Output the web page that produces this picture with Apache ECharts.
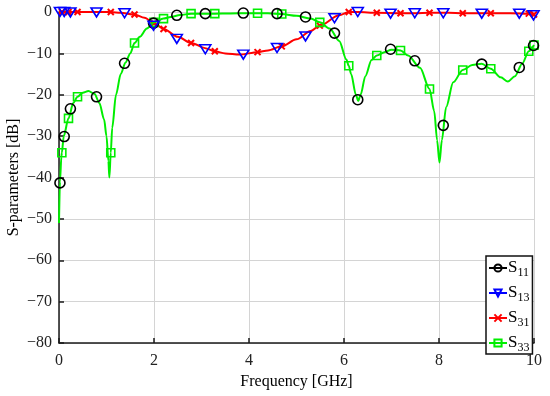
<!DOCTYPE html>
<html><head><meta charset="utf-8">
<script src="https://cdn.jsdelivr.net/npm/echarts@6/dist/echarts.min.js"></script>
<style>html,body{margin:0;padding:0;background:#fff}#c{width:550px;height:396px}</style>
</head><body><div id="c"></div>
<script>
// S33 smooth curve (green) – points between markers
const s33CurveX = [0,0.02,0.05,0.1,0.3,0.5,0.62,0.75,0.85,0.95,1.0,1.04,1.06,1.12,1.2,1.3,1.4,1.5,1.7,1.85,2.35,2.55,3.0,3.6,4.0,4.4,5.0,5.3,5.7,5.9,6.05,6.15,6.25,6.3,6.35,6.45,6.58,6.85,7.0,7.35,7.6,7.9,7.96,8.01,8.06,8.15,8.3,8.7,8.9,9.3,9.45,9.6,9.75];
const s33CurveY = [-51,-41,-35,-30,-22,-19.5,-19.1,-19.8,-22,-26,-30,-36,-40,-28,-20,-15,-12.2,-10,-6.0,-4.0,-1.2,-0.75,-0.45,-0.35,-0.3,-0.3,-0.9,-1.6,-4,-7,-11.5,-15,-20,-21.5,-20,-15.5,-11.6,-9.7,-9.1,-10.5,-13.5,-24,-31,-36.4,-31,-23,-17,-12.8,-12.5,-15.8,-16.8,-15.5,-12.5];
// markers shared by S33 / S31
const markAX = [0.06,0.2,0.39,1.09,1.59,2.0,2.2,2.78,3.28,4.18,4.69,5.49,6.1,6.69,7.19,7.8,8.5,9.09,9.89,10];
const s33MarkY = [-34,-25.7,-20.5,-34,-7.5,-2.5,-1.6,-0.4,-0.4,-0.3,-0.5,-2.5,-13,-10.5,-9.3,-18.6,-14,-13.7,-9.5,-8];
// S31 smooth curve (red)
const s31CurveX = [0,0.5,1.3,1.8,2.5,3.1,3.5,3.8,4.4,5.0,5.3,5.9,6.3,7.5,8.2,9.5];
const s31CurveY = [0,0,-0.2,-1.4,-6.0,-8.8,-10.0,-10.3,-9.3,-6.6,-4.6,-0.8,0,-0.3,-0.2,-0.3];
const s31MarkY = [0,0,0,0,-0.6,-2.7,-4.1,-7.5,-9.5,-9.7,-8.3,-3.3,0,-0.2,-0.3,-0.2,-0.3,-0.3,-0.4,-0.6];
// markers shared by S11 / S13
const markBX = [0.02,0.11,0.24,0.79,1.38,1.99,2.48,3.08,3.88,4.59,5.19,5.8,6.29,6.98,7.49,8.09,8.9,9.69,9.99];
const s11MarkY = [-41.3,-30.1,-23.4,-20.5,-12.4,-2.7,-0.8,-0.4,-0.25,-0.4,-1.2,-5.1,-21.2,-9.0,-11.8,-27.4,-12.6,-13.4,-8.1];
const s13MarkY = [0,0,-0.1,-0.1,-0.3,-3.3,-6.5,-9.0,-10.3,-8.7,-5.9,-1.5,0,-0.4,-0.3,-0.3,-0.4,-0.4,-0.8];
const xTicks = [0,2,4,6,8,10];
const yTicks = [-80,-70,-60,-50,-40,-30,-20,-10,0];

function merged(cx, cy, mx, my) {
  const pts = [];
  cx.forEach((x, i) => pts.push({ value: [x, cy[i]], symbol: 'none' }));
  mx.forEach((x, i) => pts.push({ value: [x, my[i]] }));
  pts.sort((a, b) => a.value[0] - b.value[0]);
  return pts;
}
function marks(mx, my) { return mx.map((x, i) => [x, my[i]]); }

const font = 'Liberation Serif';
const chart = echarts.init(document.getElementById('c'));
const cross = 'path://M0,0L10,10M10,0L0,10';
chart.setOption({
  animation: false,
  backgroundColor: '#fff',
  grid: { left: 59, right: 16, top: 12, bottom: 53, containLabel: false, outerBoundsMode: 'none' },
  xAxis: {
    type: 'value', min: xTicks[0], max: xTicks[xTicks.length - 1], interval: 2,
    name: 'Frequency [GHz]', nameLocation: 'middle', nameGap: 31, nameMoveOverlap: false,
    nameTextStyle: { fontFamily: font, fontSize: 16, color: '#000' },
    axisLine: { onZero: false, lineStyle: { color: '#1a1a1a', width: 1.5 } },
    axisTick: { inside: true, length: 5, lineStyle: { color: '#1a1a1a', width: 1.5 } },
    axisLabel: { fontFamily: font, fontSize: 16, color: '#222', margin: 10 },
    splitLine: { lineStyle: { color: '#d4d4d4', width: 1 } }
  },
  yAxis: {
    type: 'value', min: yTicks[0], max: yTicks[yTicks.length - 1], interval: 10,
    name: 'S-parameters [dB]', nameLocation: 'middle', nameGap: 37, nameMoveOverlap: false,
    nameTextStyle: { fontFamily: font, fontSize: 16, color: '#000' },
    axisLine: { show: true, onZero: false, lineStyle: { color: '#1a1a1a', width: 1.5 } },
    axisTick: { show: true, inside: true, length: 5, lineStyle: { color: '#1a1a1a', width: 1.5 } },
    axisLabel: { fontFamily: font, fontSize: 16, color: '#222', margin: 7,
      formatter: v => String(v).replace('-', '\u2212') },
    splitLine: { lineStyle: { color: '#d4d4d4', width: 1 } }
  },
  legend: {
    orient: 'vertical', left: 486, top: 256, width: 46,
    padding: [1, 3, 0, 2], itemGap: 3, itemWidth: 18, itemHeight: 9,
    backgroundColor: '#fff', borderColor: '#111', borderWidth: 1.5,
    data: [
      { name: 'S11', lineStyle: { opacity: 1 } },
      { name: 'S13', lineStyle: { opacity: 1 } },
      { name: 'S31' },
      { name: 'S33' }
    ],
    formatter: n => '{s|S}{b|' + n.slice(1) + '}',
    textStyle: {
      padding: [0, 0, 0, -4],
      rich: {
        s: { fontFamily: font, fontSize: 17, color: '#000', lineHeight: 18.5 },
        b: { fontFamily: font, fontSize: 12, color: '#000', padding: [10, 0, 0, 0], lineHeight: 18.5 }
      }
    }
  },
  series: [
    { name: 'S11', type: 'line', data: marks(markBX, s11MarkY), z: 5,
      symbol: 'circle', symbolSize: 10,
      itemStyle: { color: 'rgba(0,0,0,0)', borderColor: '#000', borderWidth: 1.6 },
      lineStyle: { color: '#000', width: 2, opacity: 0 } },
    { name: 'S13', type: 'line', data: marks(markBX, s13MarkY), z: 5,
      symbol: 'triangle', symbolRotate: 180, symbolSize: [11, 9],
      itemStyle: { color: 'rgba(0,0,0,0)', borderColor: '#0000ff', borderWidth: 1.6 },
      lineStyle: { color: '#0000ff', width: 2, opacity: 0 } },
    { name: 'S31', type: 'line', smooth: 0.3, smoothMonotone: 'x', z: 3,
      data: merged(s31CurveX, s31CurveY, markAX, s31MarkY), showAllSymbol: true,
      symbol: cross, symbolSize: 6,
      itemStyle: { color: 'rgba(0,0,0,0)', borderColor: '#ff0000', borderWidth: 2 },
      lineStyle: { color: '#ff0000', width: 2 } },
    { name: 'S33', type: 'line', smooth: 0.3, smoothMonotone: 'x', z: 4,
      data: merged(s33CurveX, s33CurveY, markAX, s33MarkY), showAllSymbol: true,
      symbol: 'rect', symbolSize: 8,
      itemStyle: { color: 'rgba(0,0,0,0)', borderColor: '#00ee00', borderWidth: 1.6 },
      lineStyle: { color: '#00ee00', width: 2 } }
  ]
});
</script></body></html>
